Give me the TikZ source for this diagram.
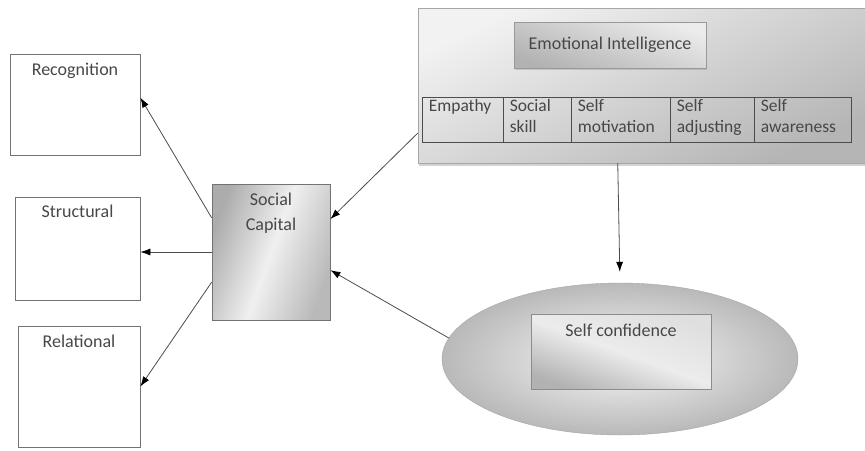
\documentclass[tikz,border=0pt]{standalone}
\usepackage{fontspec}
\setmainfont{Carlito}
\usetikzlibrary{arrows.meta,shadows,shapes.geometric}

\begin{document}
\begin{tikzpicture}[x=1pt,y=-1pt,
    font=\fontsize{18}{21}\selectfont,
    every node/.style={text=black!72},
    plainbox/.style={rectangle,draw=black!55,line width=0.8pt,inner sep=0pt},
    cellbox/.style={rectangle,draw=black!70,line width=0.8pt,inner sep=0pt,minimum height=45},
    toptext/.style={anchor=north,inner sep=0pt,yshift=-9pt,text=black!72},
    celltext/.style={anchor=north west,align=left,inner xsep=7pt,inner ysep=3pt,
      font=\fontsize{17.5}{21}\selectfont,text=black!72}]
  \useasboundingbox (0,0) rectangle (865,450);
  \begin{scope}
    \node[plainbox,minimum width=130,minimum height=101,
      label={[toptext]north:Recognition}] (rec) at (75,104.5) {};
    \node[plainbox,minimum width=125,minimum height=103,
      label={[toptext,yshift=1pt]north:Structural}] (str) at (77.5,248.5) {};
    \node[plainbox,minimum width=122,minimum height=121,
      label={[toptext]north:Relational}] (rel) at (79,386.5) {};
  \end{scope}
  \node[plainbox,minimum width=118,minimum height=136,
    left color=gray!65,right color=gray!55,middle color=gray!12,shading angle=70,
    label={[toptext,align=center,font=\fontsize{18}{25}\selectfont]north:Social\\Capital}] (soc) at (271,252) {};
  \node[rectangle,draw=black!35,inner sep=0pt,minimum width=447,minimum height=155,
    top color=gray!10,bottom color=gray!58,shading angle=25,
    drop shadow={shadow xshift=1pt,shadow yshift=-3pt,opacity=0.35}] (ei) at (641.5,85.5) {};
  \node[rectangle,draw=black!40,inner sep=0pt,minimum width=192,minimum height=46,
    top color=gray!15,bottom color=gray!60,shading angle=-20,
    drop shadow={shadow xshift=1pt,shadow yshift=-2pt,opacity=0.3}] (eititle) at (610,45) {Emotional Intelligence};
  \node[cellbox,minimum width=81,label={[celltext]north west:Empathy}] (emp) at (462.5,119.5) {};
  \node[cellbox,minimum width=68,label={[celltext]north west:Social\\skill}] (skl) at (537,119.5) {};
  \node[cellbox,minimum width=99,label={[celltext]north west:Self\\motivation}] (mot) at (620.5,119.5) {};
  \node[cellbox,minimum width=84,label={[celltext]north west:Self\\adjusting}] (adj) at (712,119.5) {};
  \node[cellbox,minimum width=97,label={[celltext]north west:Self\\awareness}] (awa) at (802.5,119.5) {};
  \node[ellipse,draw=black!35,inner sep=0pt,minimum width=356,minimum height=152,
    inner color=gray!6,outer color=gray!55] (ell) at (620,359) {};
  \node[rectangle,draw=black!45,inner sep=0pt,minimum width=180,minimum height=75,
    top color=gray!25,bottom color=gray!60,middle color=gray!15,shading angle=-20,
    label={[toptext]north:Self confidence}] (conf) at (621,352) {};
  \begin{scope}[>={Latex[length=10pt,width=7pt,black]},
      every path/.style={draw=black!70,line width=0.8pt}]
    \draw[->] (soc.150) -- (rec.6);
    \draw[->] (soc.west) -- (soc.west -| str.east);
    \draw[->] (soc.207) -- (rel.east);
    \draw[->] (ei.192) -- (soc.29);
    \draw[->] (ell.173) -- (soc.-17);
    \draw[->,shorten >=11pt] (ei.253) -- (ell.north);
  \end{scope}
\end{tikzpicture}
\end{document}
